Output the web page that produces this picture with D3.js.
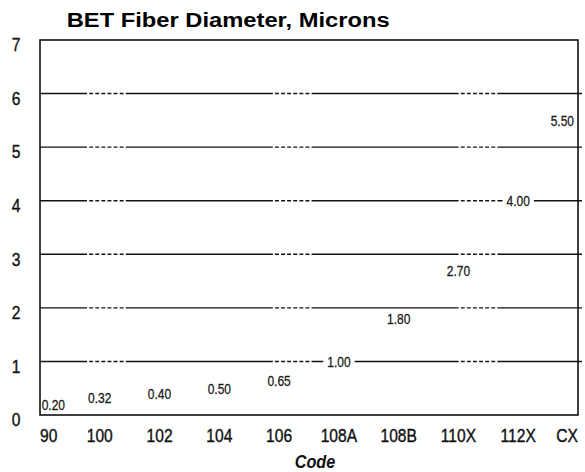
<!DOCTYPE html>
<html>
<head>
<meta charset="utf-8">
<script src="https://cdn.jsdelivr.net/npm/d3@7"></script>
<style>
  html, body { margin: 0; padding: 0; background: #fff; }
  svg { display: block; }
</style>
</head>
<body>
<svg id="chart" width="585" height="472"></svg>
<script>
// ---- data ----
const categories = ["90", "100", "102", "104", "106", "108A", "108B", "110X", "112X", "CX"];
const diameters  = [0.20, 0.32, 0.40, 0.50, 0.65, 1.00, 1.80, 2.70, 4.00, 5.50];
const valueLabels = ["0.20", "0.32", "0.40", "0.50", "0.65", "1.00", "1.80", "2.70", "4.00", "5.50"];
const yTicks = [0, 1, 2, 3, 4, 5, 6, 7];
const titleText = "BET Fiber Diameter, Microns";
const xTitleText = "Code";

// ---- layout ----
const L = 40, R = 578, T = 40, B = 415;
const font = "'Liberation Sans', Arial, sans-serif";
const svg = d3.select("#chart");

// emulate a narrow face by compressing glyphs horizontally
function narrowize(sel, k) {
  sel.each(function () {
    const w = this.getComputedTextLength();
    d3.select(this)
      .attr("textLength", w * (k || 0.82))
      .attr("lengthAdjust", "spacingAndGlyphs");
  });
}

const x = d3.scalePoint().domain(categories).range([L, R]).padding(0);
const y = d3.scaleLinear().domain([0, 7]).range([B, T]);

// title
svg.append("text")
  .attr("x", 66.7).attr("y", 26.7)
  .attr("font-family", font)
  .attr("font-weight", "bold")
  .attr("font-size", 20)
  .attr("textLength", 323)
  .attr("lengthAdjust", "spacingAndGlyphs")
  .attr("fill", "#000")
  .text(titleText);

// gridlines with solid / dotted pattern
const dots = [];
for (let i = 0; i < 6; i++) dots.push(2.2, 3.9);
dots.push(2.2);
const dash = [147].concat(dots).join(" ");
svg.append("g")
  .selectAll("line")
  .data(yTicks.filter(v => v > 0 && v < 7))
  .join("line")
  .attr("x1", L).attr("x2", R + 4)
  .attr("y1", d => y(d)).attr("y2", d => y(d))
  .attr("stroke", "#111")
  .attr("stroke-width", 1.4)
  .attr("stroke-dasharray", dash)
  .attr("stroke-dashoffset", 100);

// data labels with white background
const lab = svg.append("g");
const n = categories.length;
categories.forEach((c, i) => {
  const anchor = i === 0 ? "start" : (i === n - 1 ? "end" : "middle");
  const xp = i === 0 ? x(c) + 1.7 : (i === n - 1 ? x(c) - 4 : x(c));
  const g = lab.append("g");
  const t = g.append("text")
    .attr("x", xp)
    .attr("y", y(diameters[i]))
    .attr("dy", "0.36em")
    .attr("text-anchor", anchor)
    .attr("font-family", font)
    .attr("font-size", 15)
    .attr("fill", "#1a1a1a")
    .attr("stroke", "#1a1a1a")
    .attr("stroke-width", 0.3)
    .text(valueLabels[i]);
  narrowize(t, 0.8);
  const bb = t.node().getBBox();
  g.insert("rect", "text")
    .attr("x", bb.x - 4).attr("y", bb.y + 1)
    .attr("width", bb.width + 8).attr("height", bb.height - 2)
    .attr("fill", "#fff");
});

// frame
svg.append("rect")
  .attr("x", L).attr("y", T)
  .attr("width", R - L).attr("height", B - T)
  .attr("fill", "none")
  .attr("stroke", "#111")
  .attr("stroke-width", 1.6);

// y tick labels
const yl = svg.append("g")
  .selectAll("text")
  .data(yTicks)
  .join("text")
  .attr("x", 16)
  .attr("y", d => y(d) + 11.3)
  .attr("text-anchor", "middle")
  .attr("font-family", font)
  .attr("font-size", 19)
  .attr("fill", "#111")
  .attr("stroke", "#111")
  .attr("stroke-width", 0.4)
  .text(d => d);
narrowize(yl);

// x tick labels
const xl = svg.append("g")
  .selectAll("text")
  .data(categories)
  .join("text")
  .attr("x", d => x(d))
  .attr("y", B + 27)
  .attr("text-anchor", (d, i) => i === 0 ? "start" : (i === n - 1 ? "end" : "middle"))
  .attr("font-family", font)
  .attr("font-size", 19)
  .attr("fill", "#111")
  .attr("stroke", "#111")
  .attr("stroke-width", 0.4)
  .text(d => d);
narrowize(xl);

// x axis title
const xt = svg.append("text")
  .attr("x", 315).attr("y", 468)
  .attr("text-anchor", "middle")
  .attr("font-family", font)
  .attr("font-weight", "bold")
  .attr("font-style", "italic")
  .attr("font-size", 18)
  .attr("fill", "#111")
  .text(xTitleText);
narrowize(xt, 0.9);
</script>
</body>
</html>
